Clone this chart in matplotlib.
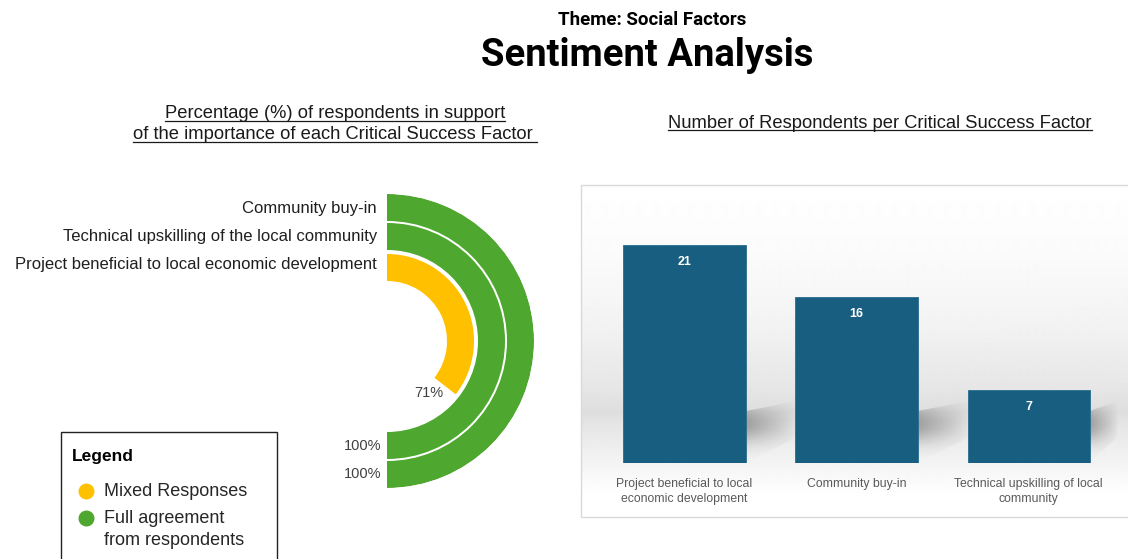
"""
Sentiment analysis dashboard - social factors
"""
import matplotlib
matplotlib.use("Agg")
import matplotlib.pyplot as plt
import numpy as np
from matplotlib.patches import Rectangle, Polygon
from matplotlib.lines import Line2D

# radial bars (inner -> outer)
ring_labels = ["Project beneficial to local economic development",
               "Technical upskilling of the local community",
               "Community buy-in"]
ring_pct = [71, 100, 100]
ring_colors = ["#FFC000", "#4EA72E", "#4EA72E"]

# column chart
bar_labels = ["Project beneficial to local\neconomic development",
              "Community buy-in",
              "Technical upskilling of local\ncommunity"]
bar_counts = [21, 16, 7]

legend_labels = ["Mixed Responses", "Full agreement\nfrom respondents"]
legend_colors = ["#FFC000", "#4EA72E"]

W, H = 1128, 559
fig = plt.figure(figsize=(W / 100, H / 100), dpi=100)
plt.rcParams["font.family"] = ["Liberation Sans", "DejaVu Sans"]


def fx(px):
    return px / W


def fy(py):
    return 1 - py / H


# ---- titles
fig.text(fx(652), fy(20), "Theme: Social Factors", ha="center", va="center",
         fontsize=13.5, weight="bold", family="Roboto")
fig.text(fx(647), fy(55), "Sentiment Analysis", ha="center", va="center",
         fontsize=27.5, weight="bold", family="Roboto")

subs = [
    fig.text(fx(335), fy(118), "Percentage (%) of respondents in support",
             ha="center", va="baseline", fontsize=13.2, color="#1a1a1a"),
    fig.text(fx(335), fy(139), "of the importance of each Critical Success Factor ",
             ha="center", va="baseline", fontsize=13.2, color="#1a1a1a"),
    fig.text(fx(880), fy(128), "Number of Respondents per Critical Success Factor",
             ha="center", va="baseline", fontsize=13.2, color="#1a1a1a"),
]

# ---- radial bar chart
cx, cy, R = 387, 341, 147
ax = fig.add_axes([fx(cx - R), fy(cy + R), 2 * R / W, 2 * R / H], projection="polar")
ax.set_theta_zero_location("N")
ax.set_theta_direction(-1)
ax.set_ylim(0, R)
ax.axis("off")

ring_inner = [60, 91, 120]
ring_w = 27
label_nudge = [2.5, 0, -1.5]
for lab, pct, col, r0, nd in zip(ring_labels, ring_pct, ring_colors, ring_inner, label_nudge):
    theta = pct / 100 * np.pi
    ax.bar(0, ring_w, width=theta, bottom=r0, align="edge", color=col, lw=0)
    ax.annotate(lab, xy=(0, r0 + ring_w / 2), xytext=(-10, nd),
                textcoords="offset pixels", ha="right", va="center",
                fontsize=12, color="#1f1f1f")
    if pct == 100:
        ax.annotate(f"{pct}%", xy=(theta, r0 + ring_w / 2), xytext=(-6, 0),
                    textcoords="offset pixels", ha="right", va="center",
                    fontsize=10.5, color="#404040")
    else:
        ax.annotate(f"{pct}%", xy=(theta, r0), xytext=(-6, -15),
                    textcoords="offset pixels", ha="center", va="center",
                    fontsize=10.5, color="#404040")

# ---- legend box
fig.add_artist(Rectangle((fx(61), fy(575)), (277 - 61) / W, (575 - 432) / H,
                         transform=fig.transFigure, fill=False, ec="#222222", lw=1))
fig.text(fx(72), fy(456), "Legend", ha="left", va="center", fontsize=12.5, weight="bold")
leg_y = [491, 518]
for lab, col, ly in zip(legend_labels, legend_colors, leg_y):
    fig.add_artist(Line2D([fx(86)], [fy(ly)], ls="", marker="o", ms=10.5,
                          color=col, transform=fig.transFigure))
    fig.text(fx(104), fy(ly - 8), lab, ha="left", va="top", fontsize=13,
             color="#262626", linespacing=1.4)

# ---- column chart panel
p_top, p_bot, p_left = 185, 517, 581
bg = fig.add_axes([fx(p_left), fy(p_bot), (W - p_left) / W, (p_bot - p_top) / H], zorder=0)
ys = np.arange(p_top, p_bot)
stops_y = [185, 250, 320, 390, 412, 425, 445, 470, 495, 517]
stops_v = [1.0, 0.985, 0.955, 0.9, 0.87, 0.9, 0.93, 0.965, 1.0, 1.0]
grad = np.interp(ys, stops_y, stops_v)[:, None]
bg.imshow(grad, cmap="gray", vmin=0, vmax=1, aspect="auto",
          extent=(0, 1, 0, 1), interpolation="bilinear")
bg.axis("off")
fig.add_artist(Rectangle((fx(p_left), fy(p_bot)), (W + 5 - p_left) / W, (p_bot - p_top) / H,
                         transform=fig.transFigure, fill=False, ec="#d9d9d9", lw=1))

base = 463
bax = fig.add_axes([fx(p_left), fy(base), (W - p_left) / W, (base - p_top) / H], zorder=1)
bax.patch.set_alpha(0)
x = np.arange(len(bar_counts))
bw = 0.71
bax.bar(x, bar_counts, width=bw, color="#175E80", edgecolor="#2a6d90",
        lw=0.6, zorder=3)
for xi, v in zip(x, bar_counts):
    bax.text(xi, v - 1.65, str(v), ha="center", va="center", color="white",
             fontsize=9, weight="bold", zorder=4)

# soft cast shadow to the right of each bar
xu, yu = 172.0, 10.38  # pixels per data unit
u = np.linspace(0, 1, 64)[None, :]
vv = np.linspace(1, 0, 64)[:, None]   # image row 0 = top
prof = np.exp(-((vv - 0.62) / 0.3) ** 2)
sh_img = np.zeros((64, 64, 4))
sh_img[..., 3] = 0.3 * (1 - u) ** 0.9 * prof
for xi, v in zip(x, bar_counts):
    xr = xi + bw / 2
    dx = min(52, v * 4) / xu
    pts = [(xr, 0), (xr, 52 / yu), (xr + dx, 62 / yu), (xr + dx, 26 / yu)]
    poly = Polygon(pts, closed=True, fc="none", ec="none")
    bax.add_patch(poly)
    im = bax.imshow(sh_img, extent=(xr, xr + dx, 0, 62 / yu), aspect="auto",
                    interpolation="bilinear", zorder=2)
    im.set_clip_path(poly)
bax.set_xlim(-0.602, 2.578)
bax.set_ylim(0, 26.78)
bax.set_yticks([])
bax.set_xticks(x, bar_labels, fontsize=8.8, color="#595959", linespacing=1.4)
bax.tick_params(axis="x", length=0, pad=10.5)
for s in bax.spines.values():
    s.set_visible(False)

# underline the subtitles
fig.canvas.draw()
rend = fig.canvas.get_renderer()
for t in subs:
    bb = t.get_window_extent(rend)
    yb = t.get_position()[1] * H - 2.5
    fig.add_artist(Line2D([bb.x0 / W, bb.x1 / W], [yb / H, yb / H],
                          transform=fig.transFigure, color="#1a1a1a", lw=0.9))

fig.savefig("out.png", dpi=100)
